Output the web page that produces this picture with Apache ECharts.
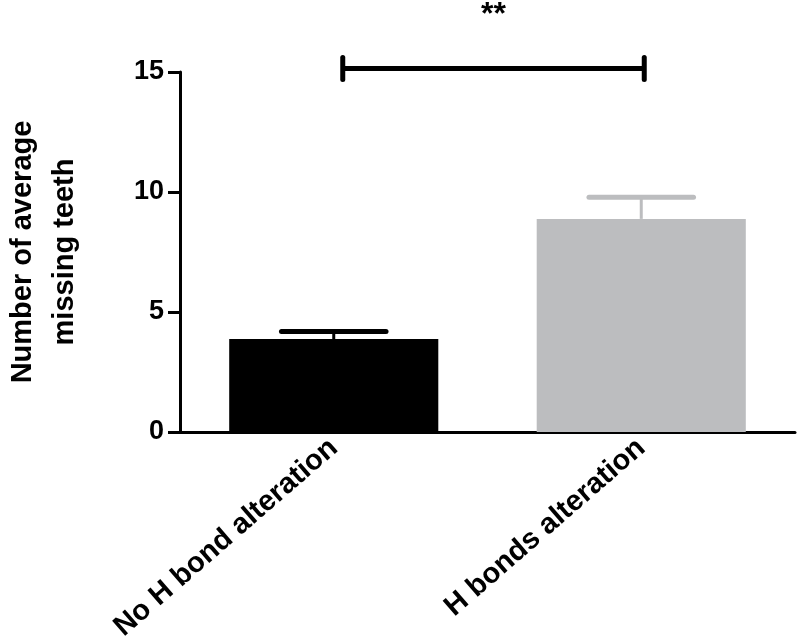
<!DOCTYPE html>
<html>
<head>
<meta charset="utf-8">
<script src="https://cdn.jsdelivr.net/npm/echarts@6/dist/echarts.min.js"></script>
<style>html,body{margin:0;padding:0;background:#fff}#c{width:800px;height:644px}</style>
</head>
<body>
<div id="c"></div>
<script>
const categories = ['No H bond alteration', 'H bonds alteration'];
const means = [3.87, 8.88];
const upperErr = [4.19, 9.78];
const barColors = ['#000000', '#bcbdbf'];
const yTicks = [0, 5, 10, 15];
const sigPair = [0, 1];
const sigLevel = 15.15;
const sigTextLevel = 17.35;
const sigLabel = '**';

const FONT = 'Liberation Sans';
const chart = echarts.init(document.getElementById('c'));

const errData = means.map((m, i) => [i, m, upperErr[i]]);

chart.setOption({
  animation: false,
  backgroundColor: '#fff',
  grid: { left: 180, right: 5, top: 72, bottom: 212, containLabel: false, outerBoundsMode: 'none' },
  xAxis: {
    type: 'category',
    data: categories,
    axisLine: { lineStyle: { color: '#000', width: 3 } },
    axisTick: { alignWithLabel: true, length: 10, lineStyle: { color: '#000', width: 3 } },
    axisLabel: {
      rotate: 41, margin: 12, color: '#000',
      fontFamily: FONT, fontWeight: 'bold', fontSize: 29
    }
  },
  yAxis: {
    type: 'value',
    min: yTicks[0], max: yTicks[yTicks.length - 1], interval: 5,
    name: 'Number of average\nmissing teeth',
    nameLocation: 'middle', nameRotate: 90, nameGap: 94,
    nameTextStyle: { color: '#000', fontFamily: FONT, fontWeight: 'bold', fontSize: 29, lineHeight: 42 },
    axisLine: { show: true, lineStyle: { color: '#000', width: 3 } },
    axisTick: { show: true, length: 12, lineStyle: { color: '#000', width: 3 } },
    splitLine: { show: false },
    axisLabel: { margin: 16, color: '#000', fontFamily: FONT, fontWeight: 'bold', fontSize: 27 }
  },
  series: [
    {
      type: 'bar',
      barWidth: '68%',
      data: means.map((v, i) => ({ value: v, itemStyle: { color: barColors[i] } })),
      z: 2
    },
    {
      type: 'custom',
      z: 3,
      data: errData,
      renderItem: function (params, api) {
        const i = api.value(0);
        const top = api.coord([i, api.value(1)]);
        const up = api.coord([i, api.value(2)]);
        const half = api.size([1, 0])[0] * 0.17;
        const col = barColors[i];
        return {
          type: 'group',
          children: [
            { type: 'line', shape: { x1: top[0], y1: top[1], x2: up[0], y2: up[1] },
              style: { stroke: col, lineWidth: 3 } },
            { type: 'line', shape: { x1: up[0] - half, y1: up[1], x2: up[0] + half, y2: up[1] },
              style: { stroke: col, lineWidth: 5, lineCap: 'round' } }
          ]
        };
      }
    },
    {
      type: 'custom',
      z: 4,
      clip: false,
      data: [[sigPair[0], sigPair[1], sigLevel, sigTextLevel]],
      renderItem: function (params, api) {
        const a = api.coord([api.value(0), api.value(2)]);
        const b = api.coord([api.value(1), api.value(2)]);
        const t = api.coord([(api.value(0) + api.value(1)) / 2, api.value(3)]);
        const a0 = a[0] + 9, b0 = b[0] + 3;
        return {
          type: 'group',
          children: [
            { type: 'line', shape: { x1: a0, y1: a[1], x2: b0, y2: b[1] },
              style: { stroke: '#000', lineWidth: 5 } },
            { type: 'line', shape: { x1: a0, y1: a[1] - 11, x2: a0, y2: a[1] + 11 },
              style: { stroke: '#000', lineWidth: 5, lineCap: 'round' } },
            { type: 'line', shape: { x1: b0, y1: b[1] - 11, x2: b0, y2: b[1] + 11 },
              style: { stroke: '#000', lineWidth: 5, lineCap: 'round' } },
            { type: 'text', x: (a0 + b0) / 2, y: t[1],
              style: { text: sigLabel, fill: '#000', font: 'bold 32px "Liberation Sans"',
                       align: 'center', verticalAlign: 'middle' } }
          ]
        };
      }
    }
  ]
});
</script>
</body>
</html>
